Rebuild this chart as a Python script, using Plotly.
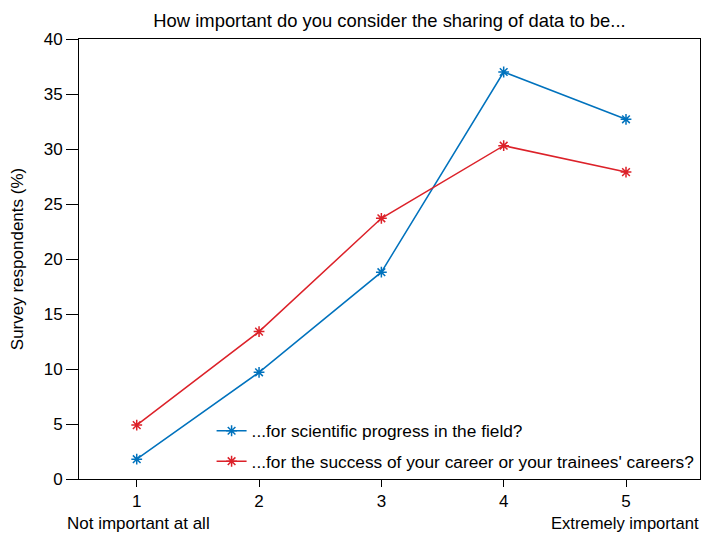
import plotly.graph_objects as go

categories = [1, 2, 3, 4, 5]
science_progress = [1.8, 9.7, 18.8, 37.0, 32.7]
career_success = [4.9, 13.4, 23.7, 30.3, 27.9]
y_ticks = [0, 5, 10, 15, 20, 25, 30, 35, 40]

BLUE = "#0072BD"
RED = "#DC2129"
FONT = "Liberation Sans, Arial, Helvetica, sans-serif"

W, H = 705, 534

fig = go.Figure()
fig.add_trace(go.Scatter(
    x=categories, y=science_progress, mode="lines+markers",
    name="...for scientific progress in the field?", legendgroup="a",
    line=dict(color=BLUE, width=1.5),
    marker=dict(symbol="asterisk-open", size=9, color=BLUE, line=dict(color=BLUE, width=1.5)),
))
fig.add_trace(go.Scatter(
    x=categories, y=career_success, mode="lines+markers",
    name="...for the success of your career or your trainees' careers?", legendgroup="b",
    line=dict(color=RED, width=1.5),
    marker=dict(symbol="asterisk-open", size=9, color=RED, line=dict(color=RED, width=1.5)),
))

fig.update_layout(
    width=W, height=H,
    margin=dict(l=79, r=5, t=39, b=55, autoexpand=False),
    paper_bgcolor="white", plot_bgcolor="white",
    font=dict(family=FONT, size=17, color="black"),
    title=dict(text="How important do you consider the sharing of data to be...",
               xref="container", x=389.5 / W, xanchor="center",
               yref="container", y=1 - 20.5 / H, yanchor="middle",
               font=dict(size=18.4)),
    showlegend=True,
    legend=dict(x=0.2135, xanchor="left", y=0.0, yanchor="bottom",
                bgcolor="rgba(255,255,255,0)", borderwidth=0,
                font=dict(size=17.3), tracegroupgap=5, itemwidth=30,
                traceorder="grouped"),
    xaxis=dict(range=[0.528, 5.605], tickvals=categories, ticktext=[str(c) for c in categories],
               showline=True, linecolor="black", linewidth=1, mirror=True,
               ticks="outside", ticklen=7, tickcolor="black", showgrid=False, zeroline=False,
               tickfont=dict(size=17), automargin=False),
    yaxis=dict(range=[0, 40], tickvals=y_ticks,
               showline=True, linecolor="black", linewidth=1, mirror=True,
               ticks="outside", ticklen=12, tickcolor="black", showgrid=False, zeroline=False,
               title=dict(text="Survey respondents (%)", standoff=15, font=dict(size=17)),
               tickfont=dict(size=17), automargin=False),
)

fig.add_annotation(text="Not important at all", xref="paper", yref="paper",
                   x=(65 - 79) / 621, xanchor="left", y=(479 - 523) / 440, yanchor="middle",
                   showarrow=False, font=dict(size=17))
fig.add_annotation(text="Extremely important", xref="paper", yref="paper",
                   x=(549 - 79) / 621, xanchor="left", y=(479 - 523) / 440, yanchor="middle",
                   showarrow=False, font=dict(size=16.6))

# remove the browser's default 8px page margin so the figure fills the window exactly
fig.write_html("out.html", config={"displayModeBar": False},
               post_script="document.body.style.margin='0';document.body.style.overflow='hidden';")
